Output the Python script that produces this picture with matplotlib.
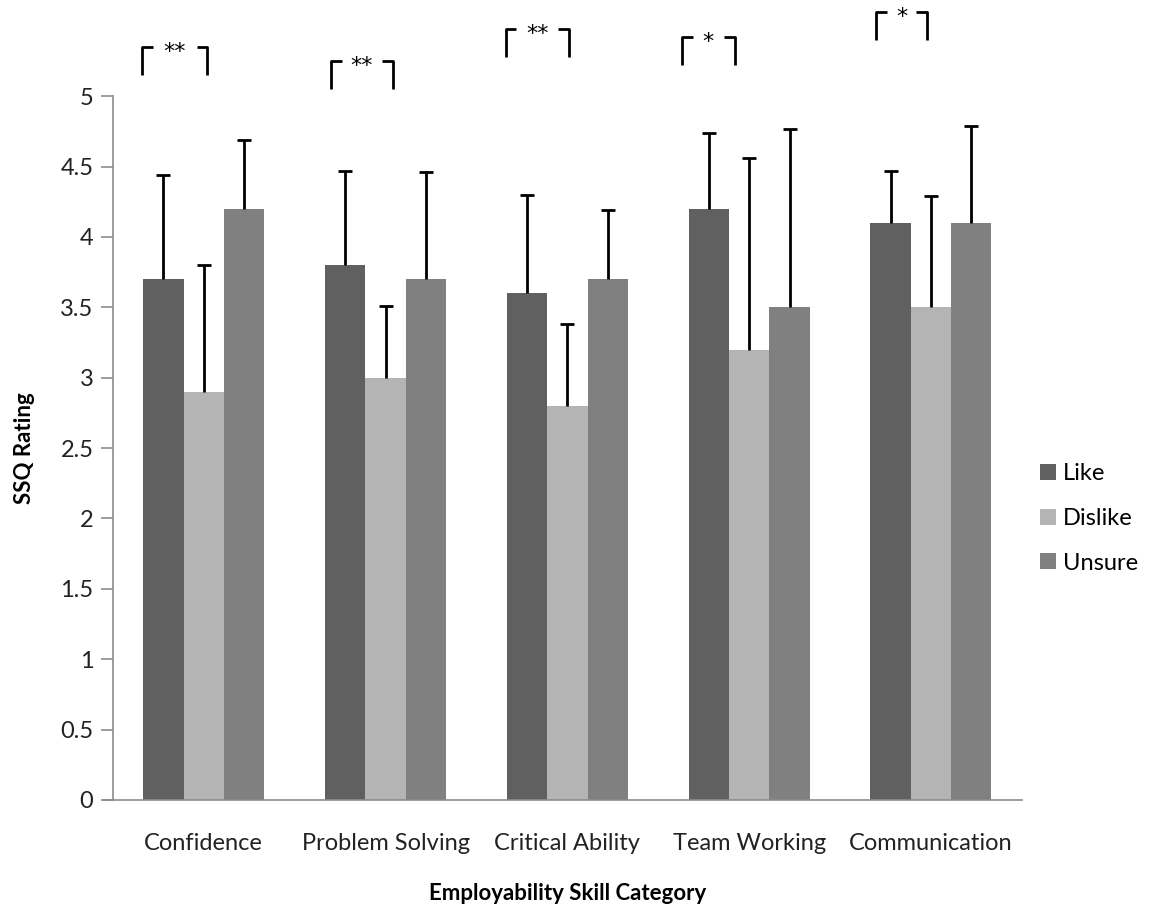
import matplotlib.pyplot as plt
import numpy as np

plt.rcParams["font.family"] = ["Lato", "DejaVu Sans"]

# -----------------------------
# Data
# -----------------------------
categories = ["Confidence", "Problem Solving", "Critical Ability", "Team Working", "Communication"]
series = ["Like", "Dislike", "Unsure"]
like = [3.7, 3.8, 3.6, 4.2, 4.1]
dislike = [2.9, 3.0, 2.8, 3.2, 3.5]
unsure = [4.2, 3.7, 3.7, 3.5, 4.1]
like_err = [0.74, 0.67, 0.70, 0.54, 0.37]
dislike_err = [0.90, 0.51, 0.58, 1.36, 0.79]
unsure_err = [0.49, 0.76, 0.49, 1.27, 0.69]

# significance markers (Like vs Dislike)
sig_labels = ["**", "**", "**", "*", "*"]
sig_top = [5.35, 5.25, 5.48, 5.42, 5.60]

colors = ["#606060", "#b4b4b4", "#808080"]


def main() -> None:
    fig = plt.figure(figsize=(11.52, 9.08), dpi=100)
    ax = fig.add_axes([0.098, 0.119, 0.789, 0.775])

    x = np.arange(len(categories))
    width = 0.222
    values = [like, dislike, unsure]
    errors = [like_err, dislike_err, unsure_err]
    for i, (vals, errs) in enumerate(zip(values, errors)):
        pos = x + (i - 1) * width
        vals = np.asarray(vals)
        tops = vals + np.asarray(errs)
        ax.bar(pos, vals, width, color=colors[i], label=series[i], linewidth=0, zorder=2)
        # upward-only error bars with a cap at the top
        ax.vlines(pos, vals, tops, color="black", lw=2, zorder=3)
        ax.plot(pos, tops, ls="none", marker="_", ms=9.5, mew=2, color="black", zorder=3)

    # significance brackets drawn above the plot area
    left_off = [-0.34, -0.30, -0.34, -0.37, -0.30]
    right_off = [0.02, 0.04, 0.01, -0.08, -0.02]
    tick = 0.06
    drop = 0.2
    for i in range(len(categories)):
        xl = x[i] + left_off[i]
        xr = x[i] + right_off[i]
        top = sig_top[i]
        kw = dict(color="black", lw=2, clip_on=False, solid_capstyle="butt")
        ax.plot([xl, xl, xl + tick], [top - drop, top, top], **kw)
        ax.plot([xr - tick, xr, xr], [top, top, top - drop], **kw)
        ax.text((xl + xr) / 2, top + 0.035, sig_labels[i], ha="center", va="top",
                fontsize=16, family="DejaVu Sans", clip_on=False)

    ax.set_xlim(-0.5, len(categories) - 0.5)
    ax.set_ylim(0, 5)
    ax.set_yticks(np.arange(0, 5.01, 0.5))
    ax.set_yticklabels(["0", "0.5", "1", "1.5", "2", "2.5", "3", "3.5", "4", "4.5", "5"])
    ax.set_xticks(x)
    ax.set_xticklabels(categories)

    for side in ("top", "right"):
        ax.spines[side].set_visible(False)
    for side in ("left", "bottom"):
        ax.spines[side].set_color("#8c8c8c")
        ax.spines[side].set_linewidth(1.2)
    ax.spines["bottom"].set_bounds(-0.5 - 9 / 182, len(categories) - 0.5)

    ax.tick_params(axis="y", direction="out", length=9, width=1.2, color="#8c8c8c",
                   labelsize=17, pad=5, labelcolor="#222222")
    ax.tick_params(axis="x", length=0, labelsize=17, pad=24, labelcolor="#222222")

    ax.set_ylabel("SSQ Rating", fontsize=16, fontweight="bold", labelpad=18)
    ax.set_xlabel("Employability Skill Category", fontsize=16, fontweight="bold", labelpad=21)

    ax.legend(loc="center left", bbox_to_anchor=(1.01, 0.40), frameon=False,
              fontsize=17, handlelength=0.65, handleheight=0.65, handletextpad=0.3,
              labelspacing=1.0, borderaxespad=0)

    fig.savefig("out.png", dpi=100)
    plt.close(fig)


if __name__ == "__main__":
    main()
